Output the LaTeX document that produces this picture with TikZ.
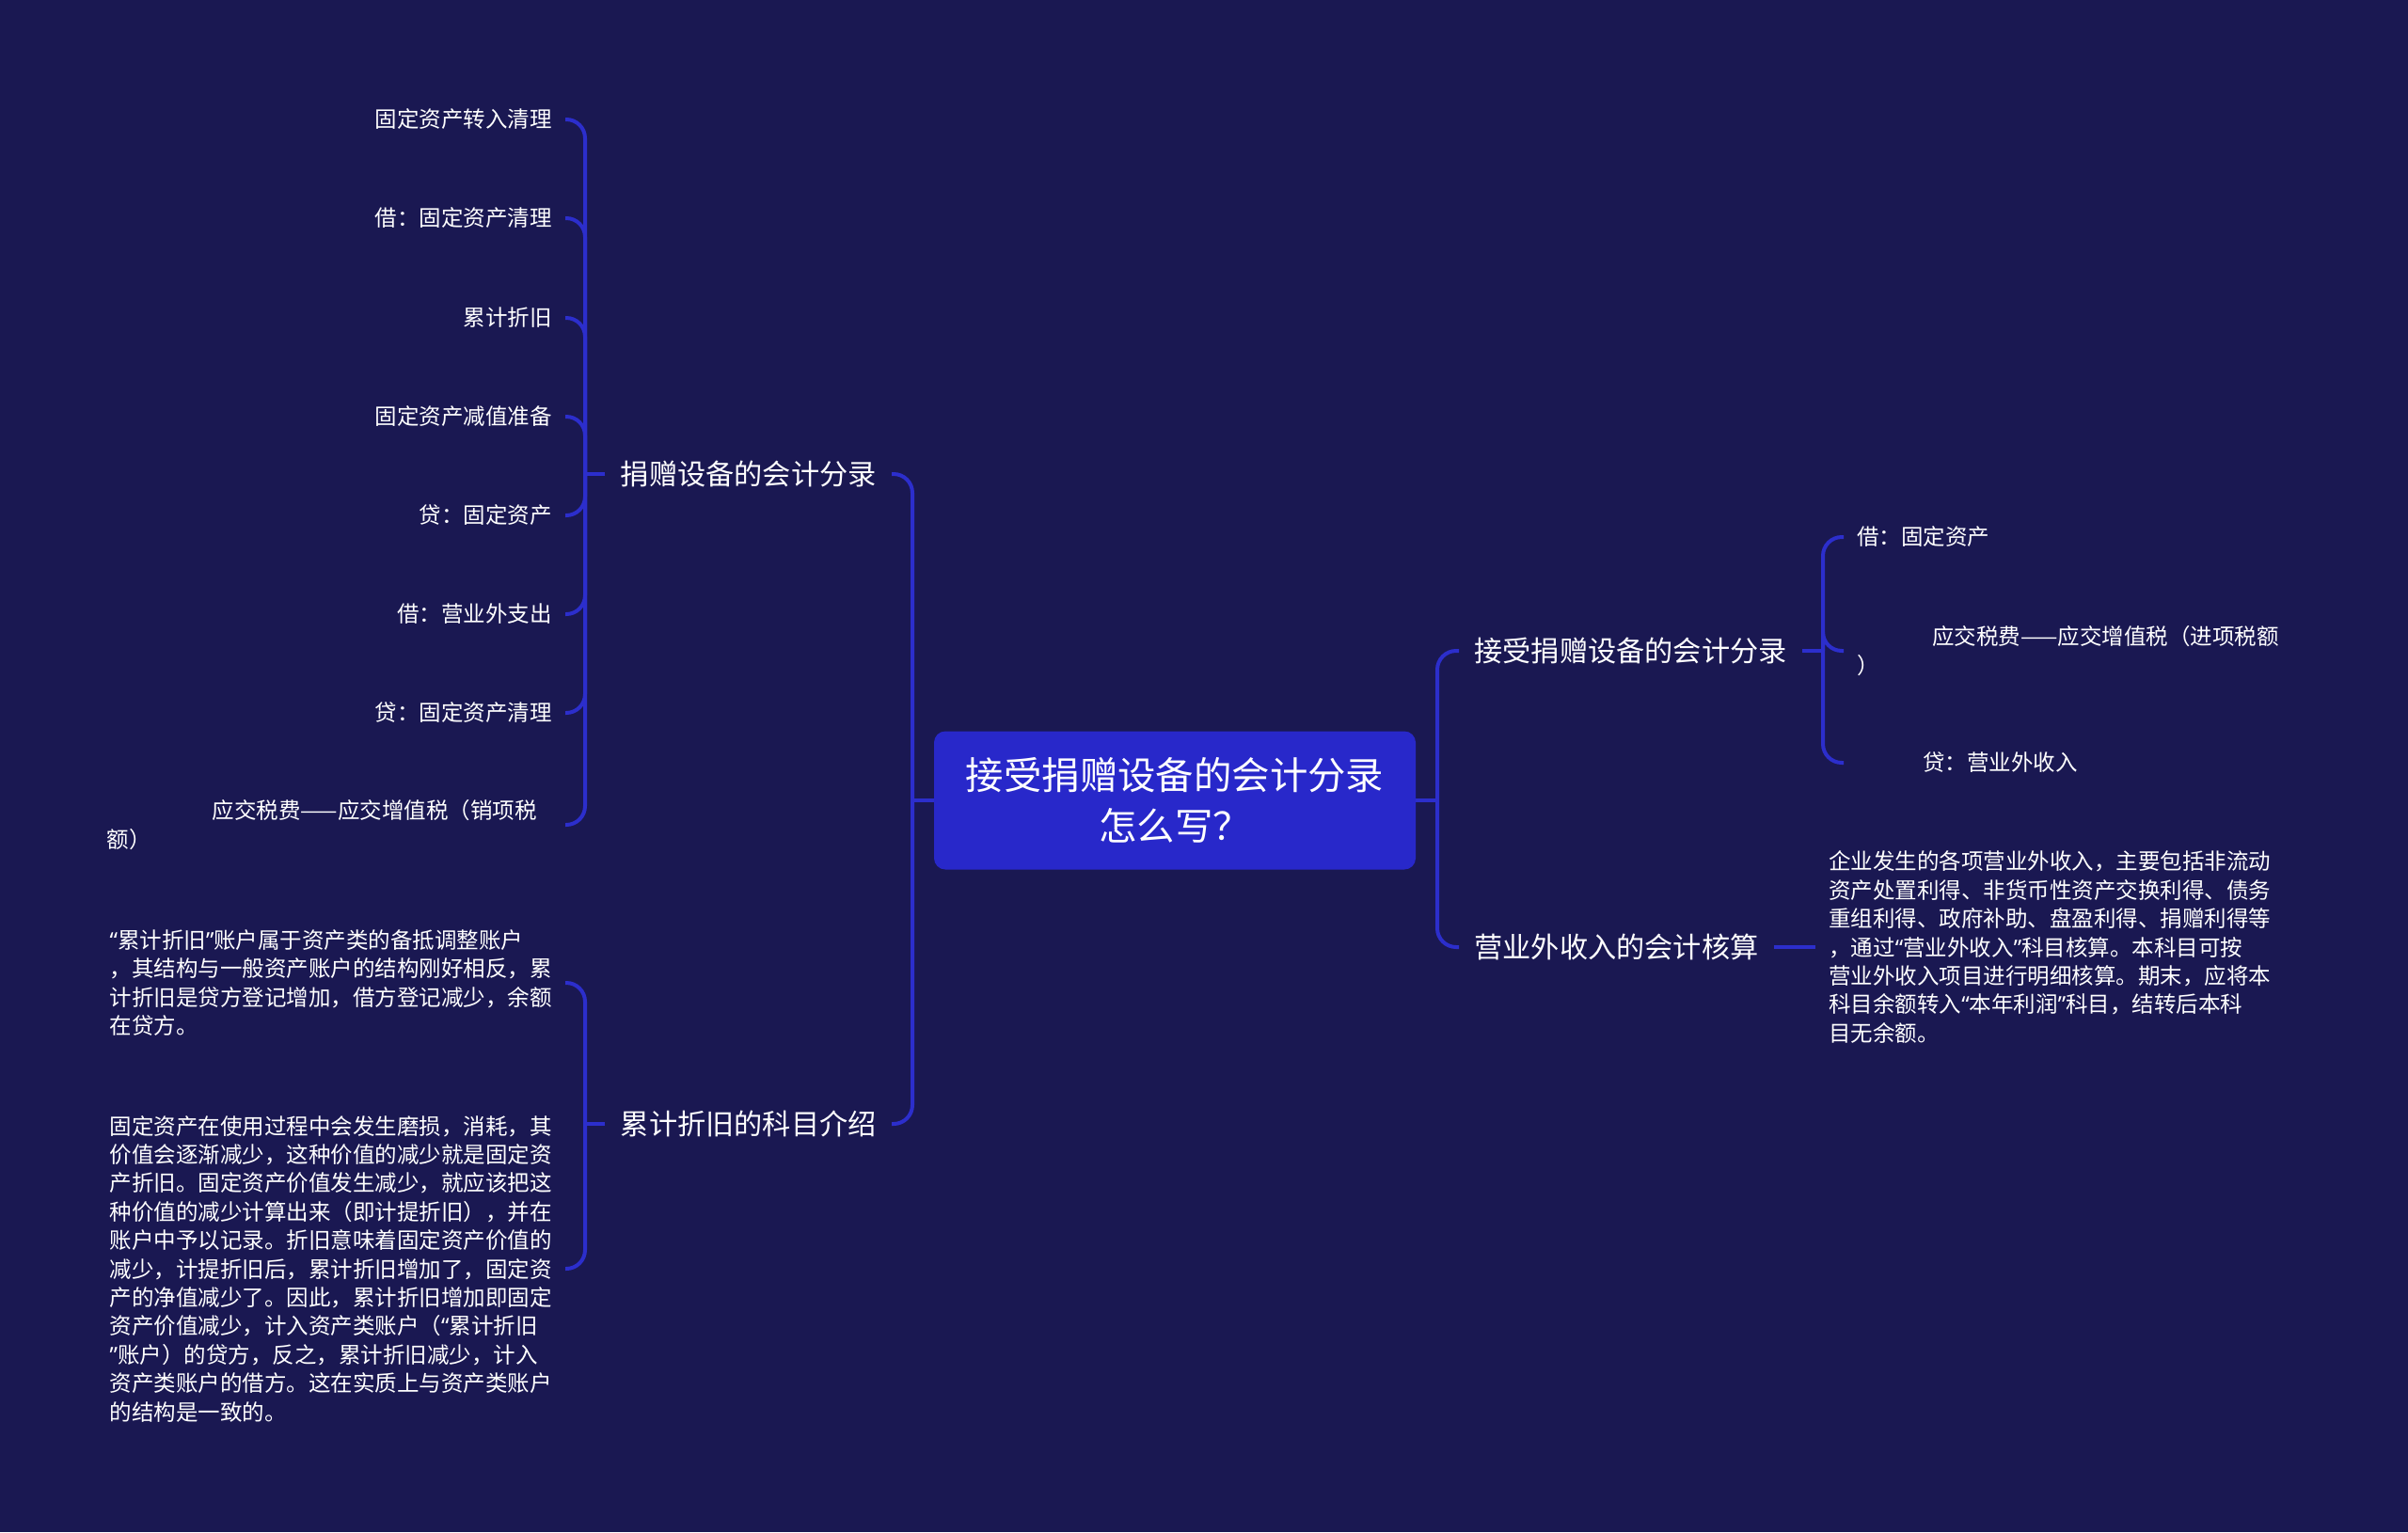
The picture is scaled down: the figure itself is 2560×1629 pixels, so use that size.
\documentclass[tikz,border=0pt]{standalone}
\usepackage{fontspec}
\setmainfont{Noto Sans CJK SC}
\newfontfamily\latinq{Noto Sans}
\newcommand{\qo}{{\latinq “}}
\newcommand{\qc}{{\latinq ”}}
\definecolor{bgc}{RGB}{26,24,82}
\definecolor{linec}{RGB}{44,46,204}
\definecolor{boxc}{RGB}{40,40,202}
\begin{document}
\begin{tikzpicture}[x=0.5pt,y=-0.5pt,
  conn/.style={draw=linec, line width=2pt},
  curv/.style={conn, rounded corners=10pt},
  rootbox/.style={fill=boxc, rounded corners=6pt, minimum width=256pt, minimum height=73.5pt,
    align=center, text=white, inner sep=0pt, font=\fontsize{20.2}{27}\selectfont},
  lvl/.style={text=white, inner xsep=8pt, inner ysep=0pt, font=\fontsize{15.1}{19}\selectfont},
  leaf/.style={text=white, inner xsep=7pt, inner ysep=0pt, font=\fontsize{11.75}{15.2}\selectfont},
  para/.style={leaf, align=left}]
\fill[bgc] (0,0) rectangle (2560,1629);
\useasboundingbox (0,0) rectangle (2560,1629);

% root
\node[rootbox] (root) at (1249,851) {接受捐赠设备的会计分录\\怎么写？};

% level 1
\node[lvl, anchor=east] (L1a) at (948,504) {捐赠设备的会计分录};
\node[lvl, anchor=east] (L1b) at (948,1195) {累计折旧的科目介绍};
\node[lvl, anchor=west] (R1a) at (1551,692) {接受捐赠设备的会计分录};
\node[lvl, anchor=west] (R1b) at (1551,1007) {营业外收入的会计核算};

% left leaves
\node[leaf, anchor=east] (a1) at (601,127) {固定资产转入清理};
\node[leaf, anchor=east] (a2) at (601,232) {借：固定资产清理};
\node[leaf, anchor=east] (a3) at (601,338) {累计折旧};
\node[leaf, anchor=east] (a4) at (601,443) {固定资产减值准备};
\node[leaf, anchor=east] (a5) at (601,548) {贷：固定资产};
\node[leaf, anchor=east] (a6) at (601,653) {借：营业外支出};
\node[leaf, anchor=east] (a7) at (601,758) {贷：固定资产清理};
\node[para, anchor=east] (a8) at (601,877) {\makebox[236.5pt][r]{应交税费——应交增值税（销项税\hspace*{8pt}}\\额）};

% left paragraphs
\node[para, anchor=east] (p1) at (601,1045) {\qo 累计折旧\qc 账户属于资产类的备抵调整账户\\，其结构与一般资产账户的结构刚好相反，累\\计折旧是贷方登记增加，借方登记减少，余额\\在贷方。};
\node[para, anchor=east] (p2) at (601,1349) {固定资产在使用过程中会发生磨损，消耗，其\\价值会逐渐减少，这种价值的减少就是固定资\\产折旧。固定资产价值发生减少，就应该把这\\种价值的减少计算出来（即计提折旧），并在\\账户中予以记录。折旧意味着固定资产价值的\\减少，计提折旧后，累计折旧增加了，固定资\\产的净值减少了。因此，累计折旧增加即固定\\资产价值减少，计入资产类账户（\qo 累计折旧\\\qc 账户）的贷方，反之，累计折旧减少，计入\\资产类账户的借方。这在实质上与资产类账户\\的结构是一致的。};

% right leaves
\node[leaf, anchor=west] (b1) at (1960,571) {借：固定资产};
\node[para, anchor=west] (b2) at (1960,692) {\hspace*{40pt}应交税费——应交增值税（进项税额\\）};
\node[leaf, anchor=west] (b3) at (1960,811) {\hspace*{35pt}贷：营业外收入};

% right paragraph
\node[para, anchor=west] (rp) at (1930,1007) {企业发生的各项营业外收入，主要包括非流动\\资产处置利得、非货币性资产交换利得、债务\\重组利得、政府补助、盘盈利得、捐赠利得等\\，通过\qo 营业外收入\qc 科目核算。本科目可按\\营业外收入项目进行明细核算。期末，应将本\\科目余额转入\qo 本年利润\qc 科目，结转后本科\\目无余额。};

% connectors
\coordinate (jL) at (970,851);
\coordinate (jR) at (1528,851);
\draw[conn] (root.west) -- (jL);
\draw[curv] (jL) |- (L1a.east);
\draw[curv] (jL) |- (L1b.east);
\draw[conn] (root.east) -- (jR);
\draw[curv] (jR) |- (R1a.west);
\draw[curv] (jR) |- (R1b.west);

\coordinate (ja) at (622,504);
\draw[conn] (L1a.west) -- (ja);
\foreach \n in {a1,a2,a3,a4,a5,a6,a7,a8} {\draw[curv] (ja) |- (\n.east);}

\coordinate (jb) at (622,1195);
\draw[conn] (L1b.west) -- (jb);
\draw[curv] (jb) |- (p1.east);
\draw[curv] (jb) |- (p2.east);

\coordinate (jc) at (1938,692);
\draw[conn] (R1a.east) -- (jc);
\foreach \n in {b1,b2,b3} {\draw[curv] (jc) |- (\n.west);}

\draw[conn] (R1b.east) -- (R1b.east -| rp.west);
\end{tikzpicture}
\end{document}
